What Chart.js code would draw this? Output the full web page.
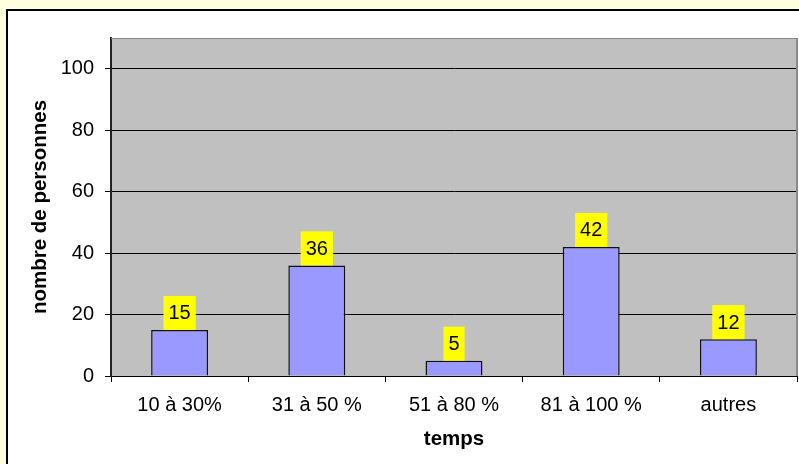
<!DOCTYPE html>
<html>
<head>
<meta charset="utf-8">
<script src="https://cdn.jsdelivr.net/npm/chart.js@4"></script>
<style>
  html, body { margin: 0; padding: 0; }
  body { width: 799px; height: 464px; background: #FFFFE0; position: relative; overflow: hidden; }
  #cadre { position: absolute; left: 6px; top: 9px; width: 900px; height: 600px; background: #fff; border: 2px solid #000; }
  #graph { position: absolute; left: 0; top: 0; }
</style>
</head>
<body>
<div id="cadre"></div>
<canvas id="graph" width="799" height="464"></canvas>
<script>
    const categories = ['10 à 30%', '31 à 50 %', '51 à 80 %', '81 à 100 %', 'autres'];
    const valeurs = [15, 36, 5, 42, 12];
    const yTicks = [0, 20, 40, 60, 80, 100];

    const police = '"Liberation Sans", Arial, sans-serif';

    // fond gris de la zone de tracé + bordures haut/droite
    const zoneTrace = {
        id: 'zoneTrace',
        beforeDraw(chart) {
            const a = chart.chartArea;
            const ctx = chart.ctx;
            ctx.save();
            ctx.fillStyle = '#C0C0C0';
            ctx.fillRect(a.left, a.top, a.right - a.left, a.bottom - a.top);
            ctx.restore();
        },
        afterDraw(chart) {
            const a = chart.chartArea;
            const ctx = chart.ctx;
            ctx.save();
            ctx.strokeStyle = '#8a8a8a';
            ctx.lineWidth = 1;
            ctx.beginPath();
            ctx.moveTo(a.left, a.top + 0.5);
            ctx.lineTo(a.right, a.top + 0.5);
            ctx.stroke();
            ctx.lineWidth = 2;
            ctx.beginPath();
            ctx.moveTo(a.right, a.top);
            ctx.lineTo(a.right, a.bottom);
            ctx.stroke();
            ctx.restore();
        }
    };

    // étiquettes jaunes au-dessus des barres
    const etiquettes = {
        id: 'etiquettes',
        afterDatasetsDraw(chart) {
            const ctx = chart.ctx;
            const meta = chart.getDatasetMeta(0);
            ctx.save();
            ctx.font = '20px ' + police;
            ctx.textAlign = 'center';
            ctx.textBaseline = 'middle';
            meta.data.forEach((bar, i) => {
                const txt = String(valeurs[i]);
                const w = ctx.measureText(txt).width + 10;
                const h = 34;
                ctx.fillStyle = '#FFFF00';
                ctx.fillRect(bar.x - w / 2, bar.y - h, w, h);
                ctx.fillStyle = '#000';
                ctx.fillText(txt, bar.x, bar.y - h / 2 + 1);
            });
            ctx.restore();
        }
    };

    new Chart(document.getElementById('graph'), {
        type: 'bar',
        data: {
            labels: categories,
            datasets: [{
                data: valeurs,
                backgroundColor: '#9999FF',
                borderColor: '#111',
                borderWidth: 1.5,
                categoryPercentage: 1,
                barPercentage: 0.415
            }]
        },
        options: {
            responsive: false,
            animation: false,
            layout: { padding: { top: 38, right: 2, left: 0, bottom: 0 } },
            plugins: { legend: { display: false }, tooltip: { enabled: false } },
            scales: {
                x: {
                    afterFit(s) { s.height = 88; },
                    grid: { display: true, drawOnChartArea: false, color: '#000', tickLength: 6, offset: true },
                    border: { color: '#000', width: 1 },
                    ticks: { color: '#000', padding: 11, font: { family: police, size: 20 } },
                    title: {
                        display: true, text: 'temps', color: '#000',
                        font: { family: police, size: 20.5, weight: 'bold' },
                        padding: { top: 0, bottom: 12 }
                    }
                },
                y: {
                    min: 0,
                    max: 110,
                    afterFit(s) { s.width = 111; },
                    afterBuildTicks(s) { s.ticks = yTicks.map(v => ({ value: v })); },
                    grid: { color: '#000', tickLength: 6 },
                    border: { color: '#222', width: 2 },
                    ticks: { color: '#000', padding: 11, font: { family: police, size: 20 } },
                    title: {
                        display: true, text: 'nombre de personnes', color: '#000',
                        font: { family: police, size: 20.5, weight: 'bold' },
                        padding: { top: 28, bottom: 0 }
                    }
                }
            }
        },
        plugins: [zoneTrace, etiquettes]
    });
</script>
</body>
</html>
